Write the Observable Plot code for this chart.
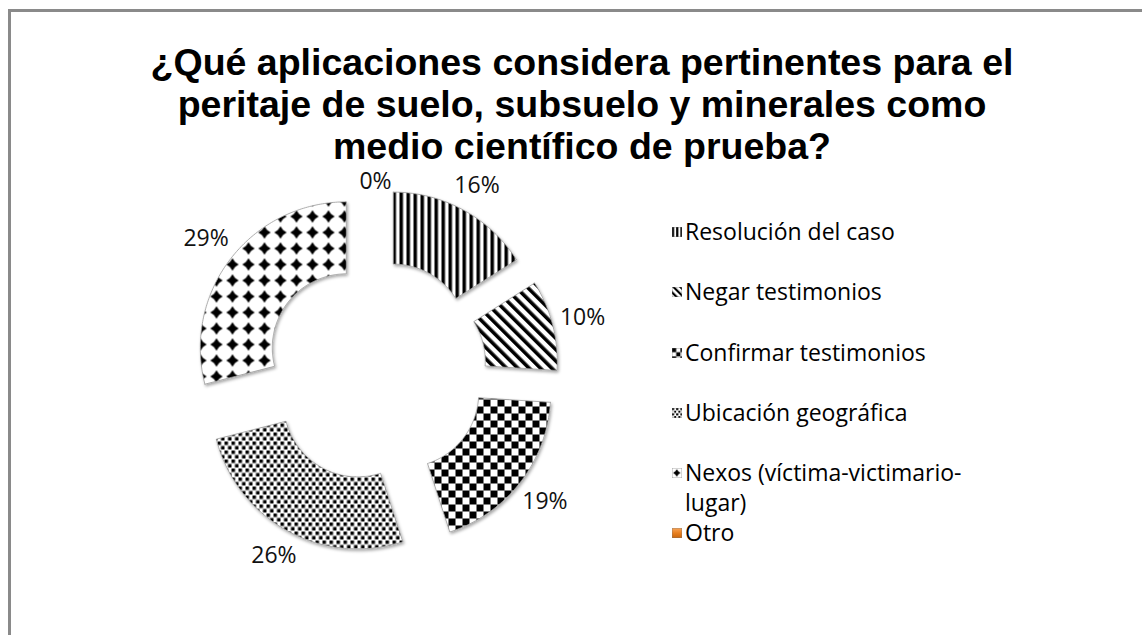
<!DOCTYPE html>
<html>
<head>
<meta charset="utf-8">
<script src="https://cdn.jsdelivr.net/npm/d3@7"></script>
<script src="https://cdn.jsdelivr.net/npm/@observablehq/plot@0.6"></script>
<style>
  html, body { margin: 0; padding: 0; background: #fff; width: 1142px; height: 635px; overflow: hidden; }
  #frame { position: absolute; left: 8px; top: 9px; width: 1200px; height: 700px;
           border-left: 3px solid #8a8a8a; border-top: 3px solid #8a8a8a; }
  #chart { position: absolute; left: 0; top: 0; }
  #title { position: absolute; left: 0; width: 1164px; top: 41px; text-align: center;
           font: bold 37.5px "Liberation Sans", Arial, sans-serif; line-height: 42px;
           white-space: pre-line; color: #000; }
  #legend { position: absolute; left: 672px; top: 216px; font-family: "Open Sans", sans-serif;
            font-size: 23px; color: #000; }
  .row { position: absolute; left: 0; line-height: 30px; }
  .sw { position: absolute; left: 0; top: 11px; width: 10px; height: 10px; display: block; }
  .lt { position: absolute; left: 13px; top: 0; width: 310px; white-space: normal; }
</style>
</head>
<body>
<div id="frame"></div>
<div id="chart"></div>
<div id="title"></div>
<div id="legend"></div>
<script>
// ---- data ----
const titleText = "¿Qué aplicaciones considera pertinentes para el\nperitaje de suelo, subsuelo y minerales como\nmedio científico de prueba?";
const categories = [
  "Resolución del caso",
  "Negar testimonios",
  "Confirmar testimonios",
  "Ubicación geográfica",
  "Nexos (víctima-victimario-lugar)",
  "Otro"
];
const values = [16, 10, 19, 26, 29, 0];
const valueLabels = ["16%", "10%", "19%", "26%", "29%", "0%"];

// ---- styles ----
const fills = ["url(#p-vs)", "url(#p-ds)", "url(#p-ck)", "url(#p-dt)", "url(#p-dm)", "url(#p-or)"];
const swatchFills = ["url(#s-vs)", "url(#s-ds)", "url(#s-ck)", "url(#s-dt)", "url(#s-dm)", "url(#s-or)"];

// geometry (in units of the outer radius)
const R_IN = 0.507, R_OUT = 1, EXPLODE = 0.253;
const PX = 146; // pixels per unit
const CX = 375, CY = 370;

const total = d3.sum(values);
let acc = 0;
const slices = categories.map((c, i) => {
  const a0 = acc / total * 2 * Math.PI;
  acc += values[i];
  const a1 = acc / total * 2 * Math.PI;
  return {c, i, v: values[i], a0, a1, mid: (a0 + a1) / 2};
});

const pts = [];
for (const s of slices) {
  if (s.v === 0) continue;
  const ox = EXPLODE * Math.sin(s.mid), oy = EXPLODE * Math.cos(s.mid);
  const n = Math.max(12, Math.ceil((s.a1 - s.a0) / 0.015));
  const ring = [];
  for (let k = 0; k <= n; k++) { const a = s.a0 + (s.a1 - s.a0) * k / n; ring.push([ox + R_OUT * Math.sin(a), oy + R_OUT * Math.cos(a)]); }
  for (let k = n; k >= 0; k--) { const a = s.a0 + (s.a1 - s.a0) * k / n; ring.push([ox + R_IN * Math.sin(a), oy + R_IN * Math.cos(a)]); }
  ring.push(ring[0]);
  for (const [x, y] of ring) pts.push({c: s.c, fill: fills[s.i], x, y});
}

// label positions: outside the exploded slice, offset by half the text box
const labelPts = slices.map(s => {
  const w = valueLabels[s.i].length * 15, h = 25, gap = 6;
  const sn = Math.sin(s.mid), cs = Math.cos(s.mid);
  const box = s.v > 0 ? (w / 2) * Math.abs(sn) + (h / 2) * Math.abs(cs) : 0;
  const r = EXPLODE + R_OUT + (gap + box) / PX;
  return {x: r * sn, y: r * cs, text: valueLabels[s.i]};
});

const chart = Plot.plot({
  width: 1142,
  height: 635,
  margin: 0,
  x: {domain: [-1, 1], range: [CX - PX, CX + PX], axis: null},
  y: {domain: [-1, 1], range: [CY + PX, CY - PX], axis: null},
  color: {type: "identity"},
  style: {background: "transparent", overflow: "visible"},
  marks: [
    Plot.line(pts, {x: "x", y: "y", z: "c", fill: "fill", stroke: "#9a9a9a", strokeWidth: 0.8, curve: "linear"}),
    Plot.text(labelPts, {x: "x", y: "y", text: "text", fontSize: 23, fontFamily: "Open Sans", fill: "#111", textAnchor: "middle"})
  ]
});

// pattern definitions
function patterns(prefix, sc) {
  const t = sc === 1 ? "" : ` patternTransform="scale(${sc})"`;
  const td = sc === 1 ? ` patternTransform="rotate(-45)"` : ` patternTransform="scale(${sc}) rotate(-45)"`;
  return `
  <pattern id="${prefix}-vs" patternUnits="userSpaceOnUse" width="7" height="7"${t}>
    <rect width="7" height="7" fill="#fff"/><rect width="3.5" height="7" fill="#000"/></pattern>
  <pattern id="${prefix}-ds" patternUnits="userSpaceOnUse" width="8" height="8"${td}>
    <rect width="8" height="8" fill="#fff"/><rect width="3.6" height="8" fill="#000"/></pattern>
  <pattern id="${prefix}-ck" patternUnits="userSpaceOnUse" width="14" height="14"${t}>
    <rect width="14" height="14" fill="#fff"/><rect width="7" height="7" fill="#000"/><rect x="7" y="7" width="7" height="7" fill="#000"/></pattern>
  <pattern id="${prefix}-dt" patternUnits="userSpaceOnUse" width="7" height="9"${t}>
    <rect width="7" height="9" fill="#fff"/><rect width="3.5" height="3.5" fill="#000"/><rect x="3.5" y="4.5" width="3.5" height="3.5" fill="#000"/></pattern>
  <pattern id="${prefix}-dm" patternUnits="userSpaceOnUse" width="16" height="16"${t}>
    <rect width="16" height="16" fill="#fff"/>
    <path d="M8,1.8 L10.6,5.4 L14.2,8 L10.6,10.6 L8,14.2 L5.4,10.6 L1.8,8 L5.4,5.4 Z" fill="#000"/></pattern>
  <linearGradient id="${prefix}-or" x1="0" y1="0" x2="0" y2="1">
    <stop offset="0" stop-color="#f8a55a"/><stop offset="0.5" stop-color="#e8801f"/><stop offset="1" stop-color="#c9650c"/></linearGradient>`;
}
const ns = "http://www.w3.org/2000/svg";
const defs = document.createElementNS(ns, "defs");
defs.innerHTML = patterns("p", 1) + patterns("s", 0.6) + `
  <filter id="shadow" x="-20%" y="-20%" width="140%" height="140%">
    <feDropShadow dx="1.2" dy="1.8" stdDeviation="1.4" flood-color="#000" flood-opacity="0.35"/>
  </filter>`;
chart.insertBefore(defs, chart.firstChild);
const lineG = chart.querySelector('g[aria-label="line"]');
if (lineG) lineG.setAttribute("filter", "url(#shadow)");

document.getElementById("chart").appendChild(chart);
document.getElementById("title").textContent = titleText;

// legend
const legend = document.getElementById("legend");
categories.forEach((c, i) => {
  const row = document.createElement("div");
  row.className = "row";
  row.style.top = (i * 60.25) + "px";
  const sw = document.createElementNS(ns, "svg");
  sw.setAttribute("class", "sw");
  sw.setAttribute("width", 10); sw.setAttribute("height", 10);
  const r = document.createElementNS(ns, "rect");
  r.setAttribute("width", 10); r.setAttribute("height", 10);
  r.setAttribute("fill", swatchFills[i]);
  r.setAttribute("stroke", "#777"); r.setAttribute("stroke-width", 0.6);
  sw.appendChild(r);
  const lt = document.createElement("div");
  lt.className = "lt";
  lt.textContent = c;
  row.appendChild(sw); row.appendChild(lt);
  legend.appendChild(row);
});
</script>
</body>
</html>
